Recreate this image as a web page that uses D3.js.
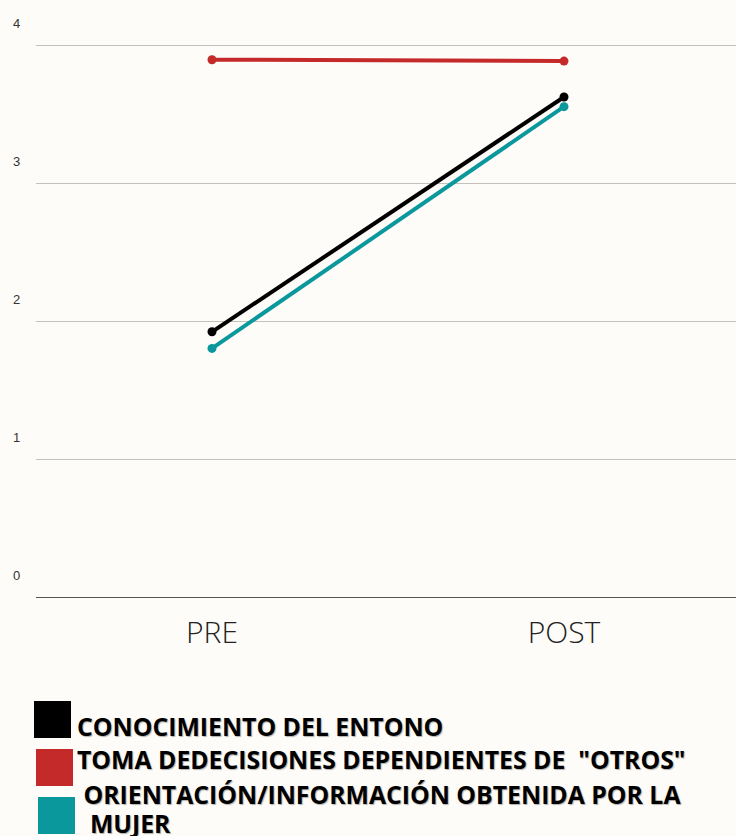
<!DOCTYPE html>
<html>
<head>
<meta charset="utf-8">
<script src="https://cdn.jsdelivr.net/npm/d3@7"></script>
<style>
  body { margin: 0; background: #fefcf8; }
  svg { display: block; }
</style>
</head>
<body>
<div id="chart"></div>
<script>
// Data
var periods = ["PRE", "POST"];
var seriesNames = [
  "CONOCIMIENTO DEL ENTONO",
  "TOMA DEDECISIONES DEPENDIENTES DE  \"OTROS\"",
  "ORIENTACIÓN/INFORMACIÓN OBTENIDA POR LA MUJER"
];
var seriesColors = ["#000000", "#c42a2a", "#0a989c"];
var conocimiento = [1.92, 3.62];
var tomaDecisiones = [3.89, 3.88];
var orientacion = [1.80, 3.55];
var yTicks = [0, 1, 2, 3, 4];

// Legend label lines (as wrapped in the original)
var legendLines = [
  ["CONOCIMIENTO DEL ENTONO"],
  ["TOMA DEDECISIONES DEPENDIENTES DE  \"OTROS\""],
  [" ORIENTACIÓN/INFORMACIÓN OBTENIDA POR LA", "  MUJER"]
];

var W = 736, H = 836;
var plot = {left: 36, right: 736, top: 44.5, bottom: 597};

var svg = d3.select("#chart")
  .append("svg")
    .attr("width", W)
    .attr("height", H);

svg.append("rect")
  .attr("width", W)
  .attr("height", H)
  .attr("fill", "#fefcf8");

var x = d3.scalePoint()
  .domain(periods)
  .range([plot.left, plot.right + 4])
  .padding(0.5);

var y = d3.scaleLinear()
  .domain([0, 4])
  .range([plot.bottom, plot.top]);

// Gridlines
svg.append("g")
  .selectAll("line")
  .data(yTicks)
  .join("line")
    .attr("x1", plot.left)
    .attr("x2", plot.right)
    .attr("y1", d => Math.round(y(d)) + 0.5)
    .attr("y2", d => Math.round(y(d)) + 0.5)
    .attr("stroke", d => d === 0 ? "#555" : "#c4c0bc")
    .attr("stroke-width", 1);

// Y labels, sitting above their lines
svg.append("g")
  .selectAll("text")
  .data(yTicks)
  .join("text")
    .attr("x", 13)
    .attr("y", d => y(d) - 17)
    .style("font-family", "'Liberation Sans', Arial, sans-serif")
    .style("font-size", "13px")
    .attr("fill", "#333")
    .text(d => d);

// X labels
svg.append("g")
  .selectAll("text")
  .data(periods)
  .join("text")
    .attr("x", d => x(d))
    .attr("y", 643)
    .attr("text-anchor", "middle")
    .style("font-family", "'Open Sans', sans-serif")
    .style("font-weight", 300)
    .style("font-size", "30px")
    .attr("fill", "#222")
    .text(d => d);

var series = [conocimiento, tomaDecisiones, orientacion].map((vals, i) => ({
  name: seriesNames[i],
  color: seriesColors[i],
  values: vals.map((v, j) => ({period: periods[j], value: v}))
}));

var line = d3.line()
  .x(d => x(d.period))
  .y(d => y(d.value));

var g = svg.append("g");
series.forEach(s => {
  g.append("path")
    .datum(s.values)
    .attr("fill", "none")
    .attr("stroke", s.color)
    .attr("stroke-width", 4)
    .attr("d", line);
  g.selectAll(null)
    .data(s.values)
    .join("circle")
      .attr("cx", d => x(d.period))
      .attr("cy", d => y(d.value))
      .attr("r", 4.5)
      .attr("fill", s.color);
});

// Legend
var legendBoxes = [{x: 34, y: 701}, {x: 36, y: 749}, {x: 38, y: 797}];
var legendBaselines = [[736], [769], [804, 833]];

var legend = svg.append("g");
series.forEach((s, i) => {
  legend.append("rect")
    .attr("x", legendBoxes[i].x)
    .attr("y", legendBoxes[i].y)
    .attr("width", 37)
    .attr("height", 37)
    .attr("fill", s.color);
  legendLines[i].forEach((t, k) => {
    legend.append("text")
      .attr("x", 77)
      .attr("y", legendBaselines[i][k])
      .style("font-family", "'Open Sans', sans-serif")
      .style("font-weight", 700)
      .style("font-size", "24.8px")
      .style("white-space", "pre")
      .style("text-shadow", "1px 1px 1px rgba(0,0,0,0.3)")
      .attr("fill", "#000")
      .text(t);
  });
});
</script>
</body>
</html>
